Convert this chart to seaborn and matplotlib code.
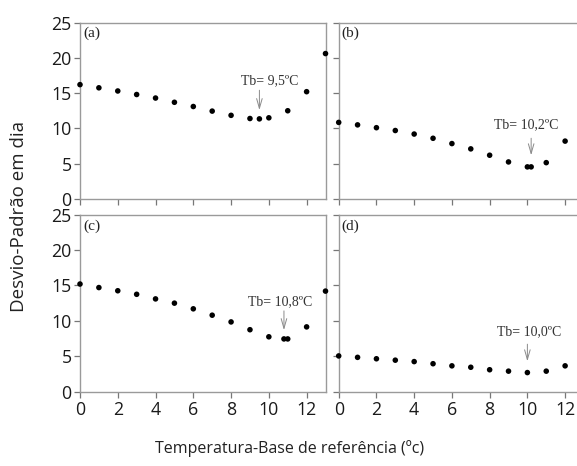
import matplotlib
matplotlib.use('Agg')
import matplotlib.pyplot as plt
import seaborn as sns
import pandas as pd

# Temperatura-base (ºC) e desvio-padrão (dias) de cada painel
temp_a = [0, 1, 2, 3, 4, 5, 6, 7, 8, 9, 9.5, 10, 11, 12, 13]
dp_a = [16.2, 15.75, 15.3, 14.8, 14.3, 13.7, 13.1, 12.45, 11.85, 11.4, 11.35, 11.5, 12.5, 15.2, 20.6]

temp_b = [0, 1, 2, 3, 4, 5, 6, 7, 8, 9, 10, 10.2, 11, 12]
dp_b = [10.85, 10.5, 10.1, 9.7, 9.2, 8.6, 7.85, 7.1, 6.2, 5.25, 4.55, 4.55, 5.15, 8.2]

temp_c = [0, 1, 2, 3, 4, 5, 6, 7, 8, 9, 10, 10.8, 11, 12, 13]
dp_c = [15.2, 14.7, 14.25, 13.75, 13.1, 12.5, 11.7, 10.8, 9.85, 8.75, 7.75, 7.45, 7.45, 9.15, 14.2]

temp_d = [0, 1, 2, 3, 4, 5, 6, 7, 8, 9, 10, 11, 12]
dp_d = [5.05, 4.85, 4.65, 4.45, 4.25, 3.95, 3.65, 3.45, 3.1, 2.9, 2.7, 2.9, 3.65]

tb_labels = ['Tb= 9,5ºC', 'Tb= 10,2ºC', 'Tb= 10,8ºC', 'Tb= 10,0ºC']

sns.set_style('ticks')
plt.rcParams['font.family'] = ['Open Sans', 'DejaVu Sans']

W, H = 577, 466
fig = plt.figure(figsize=(W / 100, H / 100), dpi=100)

def box(left, top, right, bottom):
    return [left / W, 1 - bottom / H, (right - left) / W, (bottom - top) / H]

# tag, dados, posição, xmax, Tb, posição do texto, seta (início, ponta), eixo y, eixo x
panels = [
    ('(a)', temp_a, dp_a, box(80, 22.5, 325.5, 199), 13, 9.5, (10.05, 16.2), 15.8, 12.2, True, False),
    ('(b)', temp_b, dp_b, box(338.7, 22.5, 577, 199), 12.63, 10.2, (9.96, 10.0), 9.0, 5.8, False, False),
    ('(c)', temp_c, dp_c, box(80, 214.6, 325.5, 391.7), 13, 10.8, (10.6, 12.2), 11.8, 8.3, True, True),
    ('(d)', temp_d, dp_d, box(338.7, 214.6, 577, 391.7), 12.63, 10.0, (10.1, 8.0), 7.1, 3.9, False, True),
]

spine_col = '#9a9a9a'
for (tag, xs, ys, rect, xmax, tb, txt_xy, a_top, a_tip, show_y, show_x), lab in zip(panels, tb_labels):
    ax = fig.add_axes(rect)
    df = pd.DataFrame({'t': xs, 'dp': ys})
    sns.scatterplot(data=df, x='t', y='dp', ax=ax, color='black', s=16,
                    edgecolor='none', clip_on=False, zorder=3)
    ax.set_xlim(0, xmax)
    ax.set_ylim(0, 25)
    ax.set_xticks(range(0, 13, 2))
    ax.set_yticks(range(0, 26, 5))
    ax.set_xlabel('')
    ax.set_ylabel('')
    for s in ax.spines.values():
        s.set_visible(True)
        s.set_color(spine_col)
        s.set_linewidth(1.0)
    if not show_y:
        ax.spines['right'].set_visible(False)
    ax.tick_params(direction='out', length=4, width=0.9, color='#777777',
                   labelsize=12.8, labelcolor='#1a1a1a', pad=2,
                   bottom=True, left=True, top=False, right=False)
    ax.tick_params(axis='x', pad=3)
    if not show_y:
        ax.set_yticklabels([])
    if not show_x:
        ax.set_xticklabels([])
    ax.text(0.012, 0.975, tag, transform=ax.transAxes, ha='left', va='top',
            family='Liberation Serif', fontsize=11, color='#222222')
    ax.text(txt_xy[0], txt_xy[1], lab, ha='center', va='baseline',
            family='Liberation Serif', fontsize=10, color='#333333')
    ax.annotate('', xy=(tb, a_tip), xytext=(tb, a_top),
                arrowprops=dict(arrowstyle='->,head_length=0.7,head_width=0.2',
                                color='#8a8a8a', lw=0.7))

fig.text(19 / W, 1 - 217 / H, 'Desvio-Padrão em dia', rotation=90,
         ha='center', va='center', fontsize=13.5, color='#222222')
fig.text(290 / W, 1 - 449 / H, 'Temperatura-Base de referência (ºc)',
         ha='center', va='center', fontsize=11.5, color='#222222')

fig.savefig('out.png', dpi=100)
